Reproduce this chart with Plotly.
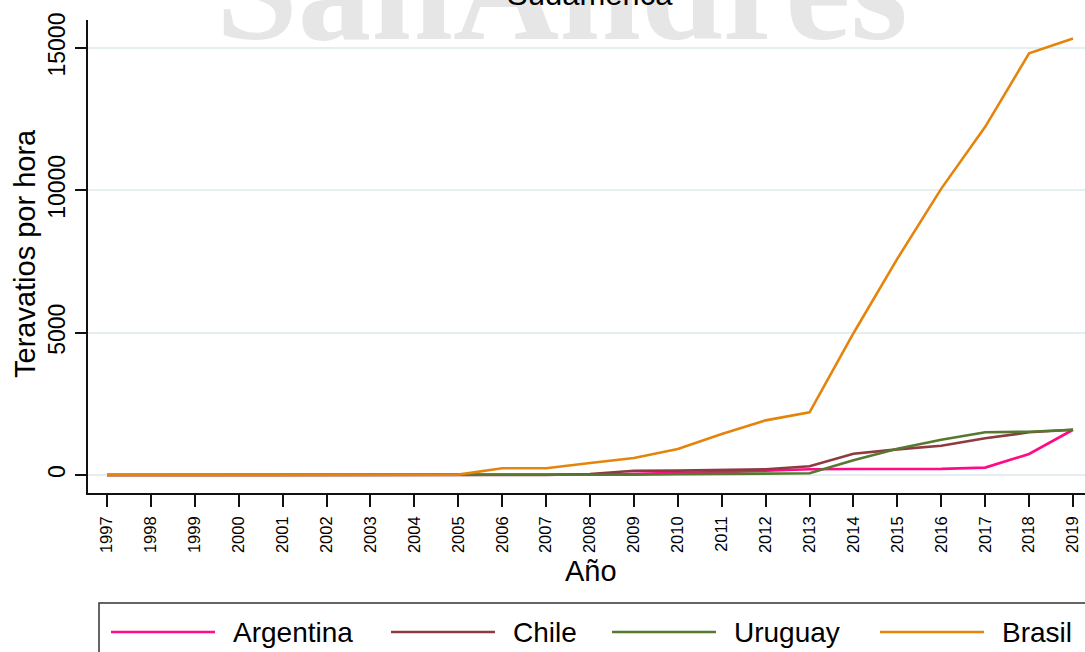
import plotly.graph_objects as go

# Annual generation series (teravatios por hora)
years = list(range(1997, 2020))
countries = ["Argentina", "Chile", "Uruguay", "Brasil"]
argentina = [0, 0, 0, 0, 0, 0, 0, 0, 0, 0, 0, 10, 40, 60, 100, 150, 200, 210, 215, 215, 260, 740, 1590]
chile = [0, 0, 0, 0, 0, 0, 0, 0, 2, 2, 5, 35, 150, 155, 170, 200, 310, 750, 900, 1030, 1290, 1500, 1590]
uruguay = [0, 0, 0, 0, 0, 0, 0, 0, 0, 0, 0, 1, 10, 30, 40, 55, 60, 520, 920, 1240, 1500, 1520, 1590]
brasil = [0, 0, 1, 2, 5, 10, 10, 10, 15, 237, 240, 420, 600, 910, 1440, 1920, 2200, 4980, 7600, 10060, 12230, 14810, 15330]
series = [argentina, chile, uruguay, brasil]
colors = ["#ff0a87", "#8e3a41", "#56792f", "#e5840b"]

y_ticks = [0, 5000, 10000, 15000]

W, H = 1085, 652
ML, MR, MT, MB = 88, 0, 20, 159
PW, PH = W - ML - MR, H - MT - MB


def px_x(px):
    return (px - ML) / PW


def px_y(py):
    return (H - MB - py) / PH


FONT = "Liberation Sans, Arial, sans-serif"

fig = go.Figure()
for name, vals, col in zip(countries, series, colors):
    fig.add_trace(go.Scatter(x=years, y=vals, name=name, mode="lines",
                             line=dict(color=col, width=2.6), showlegend=False))

fig.update_layout(
    width=W, height=H,
    margin=dict(l=ML, r=MR, t=MT, b=MB, pad=0),
    paper_bgcolor="white", plot_bgcolor="white",
    font=dict(family=FONT, color="black"),
    xaxis=dict(
        range=[1996.567, 2019.273], tickmode="array", tickvals=years,
        ticktext=[str(y) for y in years], tickangle=-90,
        tickfont=dict(size=16.5, family=FONT), ticks="outside", ticklen=12,
        tickwidth=1.5, tickcolor="#111", showline=True, linecolor="#111",
        linewidth=1.5, showgrid=False, zeroline=False, ticklabelstandoff=3,
    ),
    yaxis=dict(
        range=[-632, 15983], tickmode="array", tickvals=y_ticks,
        ticktext=[str(v) for v in y_ticks], tickangle=-90,
        tickfont=dict(size=23, family=FONT), ticks="outside", ticklen=11,
        tickwidth=1.5, tickcolor="#111", showline=True, linecolor="#111",
        linewidth=1.5, showgrid=True, gridcolor="#e6efef", gridwidth=1.5,
        zeroline=False, ticklabelstandoff=1,
    ),
)

annotations = [
    # watermark
    dict(text="<b>SanAndres</b>", x=px_x(562), y=px_y(-10), xref="paper", yref="paper",
         xanchor="center", yanchor="middle", showarrow=False,
         font=dict(family="Liberation Serif, Times New Roman, serif", size=147, color="#e6e6e6")),
    # title
    dict(text="Sudamérica", x=px_x(590), y=px_y(-6), xref="paper", yref="paper",
         xanchor="center", yanchor="middle", showarrow=False,
         font=dict(family=FONT, size=31, color="black")),
    # axis titles
    dict(text="Año", x=px_x(591), y=px_y(571), xref="paper", yref="paper",
         xanchor="center", yanchor="middle", showarrow=False,
         font=dict(family=FONT, size=29, color="black")),
    dict(text="Teravatios por hora", x=px_x(25), y=px_y(254), xref="paper", yref="paper",
         xanchor="center", yanchor="middle", showarrow=False, textangle=-90,
         font=dict(family=FONT, size=29, color="black")),
]

shapes = [
    dict(type="rect", xref="paper", yref="paper",
         x0=px_x(99), x1=px_x(1120), y0=px_y(603), y1=px_y(720),
         line=dict(color="#333", width=1.5), fillcolor="rgba(0,0,0,0)"),
]

# legend entries: sample line + label
sample_left = [111, 391, 612, 880]
for name, col, lx in zip(countries, colors, sample_left):
    shapes.append(dict(type="line", xref="paper", yref="paper",
                       x0=px_x(lx), x1=px_x(lx + 104), y0=px_y(632), y1=px_y(632),
                       line=dict(color=col, width=2.6)))
    annotations.append(dict(text=name, x=px_x(lx + 120), y=px_y(632),
                            xref="paper", yref="paper", xanchor="left", yanchor="middle",
                            showarrow=False, font=dict(family=FONT, size=28, color="black")))

fig.update_layout(annotations=annotations, shapes=shapes)
fig.write_html("out.html")
